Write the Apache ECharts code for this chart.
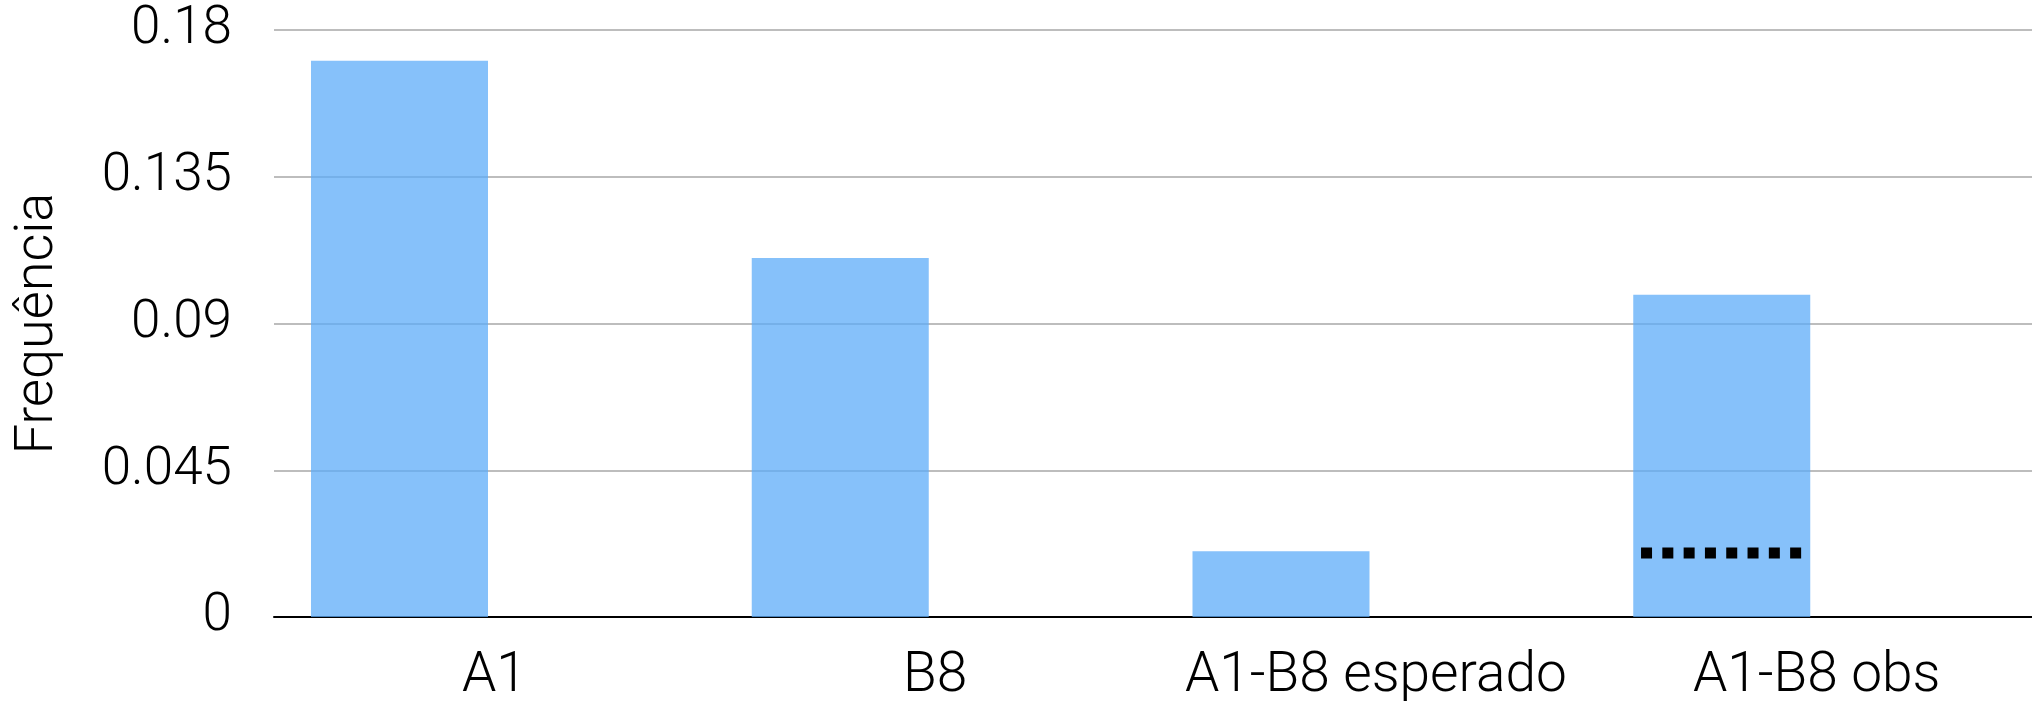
<!DOCTYPE html>
<html>
<head>
<meta charset="utf-8">
<title>Frequência</title>
<script src="https://cdn.jsdelivr.net/npm/echarts@6/dist/echarts.min.js"></script>
<style>
  html, body { margin: 0; padding: 0; background: #ffffff; }
  #chart { width: 2032px; height: 701px; }
</style>
</head>
<body>
<div id="chart"></div>
<script>
// Categories along the x axis
const categories = ['A1', 'B8', 'A1-B8 esperado', 'A1-B8 obs'];
// Observed frequency for each category
const frequencies = [0.1706, 0.1101, 0.0202, 0.0988];
// Expected frequency drawn as a dotted marker over the observed bar
const expectedMarker = [[3, 0.0196]];
// Value axis ticks
const yMin = 0;
const yMax = 0.18;
const yStep = 0.045;

const FONT = 'Roboto, "Helvetica Neue", Helvetica, Arial, sans-serif';
const BAR_WIDTH = 0.4016;  // share of the category band
const BAR_GAP = 0.072;     // share of the bar width

const chart = echarts.init(document.getElementById('chart'), null, { renderer: 'canvas' });

chart.setOption({
  animation: false,
  backgroundColor: '#ffffff',
  grid: {
    left: 274, top: 30, width: 1763, height: 587,
    containLabel: false, outerBoundsMode: 'none'
  },
  xAxis: {
    type: 'category',
    data: categories,
    axisLine: { show: true, lineStyle: { color: '#000000', width: 2 } },
    axisTick: { show: false },
    axisLabel: {
      color: '#000000', fontFamily: FONT, fontWeight: 300, fontSize: 55,
      margin: 33, interval: 0
    },
    splitLine: { show: false }
  },
  yAxis: {
    type: 'value',
    min: yMin,
    max: yMax,
    interval: yStep,
    name: 'Frequência',
    nameLocation: 'middle',
    nameGap: 209,
    nameTextStyle: { color: '#000000', fontFamily: FONT, fontWeight: 300, fontSize: 54 },
    axisLine: { show: false },
    axisTick: { show: false },
    axisLabel: {
      color: '#000000', fontFamily: FONT, fontWeight: 300, fontSize: 53, margin: 42,
      padding: [15, 0, 0, 0]
    },
    splitLine: { show: true, lineStyle: { color: '#bdbdbd', width: 2 } }
  },
  series: [
    {
      name: 'Frequência',
      type: 'bar',
      data: frequencies,
      barWidth: (BAR_WIDTH * 100) + '%',
      barGap: (BAR_GAP * 100) + '%',
      itemStyle: { color: 'rgba(94,172,248,0.75)' },
      z: 3
    },
    {
      // empty companion series keeps the bars in the left slot of each band
      name: 'vazio',
      type: 'bar',
      data: categories.map(() => '-'),
      barWidth: (BAR_WIDTH * 100) + '%',
      barGap: (BAR_GAP * 100) + '%'
    },
    {
      name: 'esperado',
      type: 'custom',
      data: expectedMarker,
      encode: { x: 0, y: 1 },
      z: 5,
      renderItem: function (params, api) {
        const p = api.coord([api.value(0), api.value(1)]);
        const band = api.size([1, 0])[0];
        const bw = band * BAR_WIDTH;
        const gap = bw * BAR_GAP;
        const cx = p[0] - (bw + gap) / 2;
        const x1 = cx - bw / 2 + bw * 0.044;
        const x2 = cx + bw / 2 - bw * 0.05;
        return {
          type: 'line',
          shape: { x1: x1, y1: p[1], x2: x2, y2: p[1] },
          style: { stroke: '#000000', lineWidth: 11, lineDash: [11, 10.3], lineCap: 'butt' }
        };
      }
    }
  ]
});
</script>
</body>
</html>
